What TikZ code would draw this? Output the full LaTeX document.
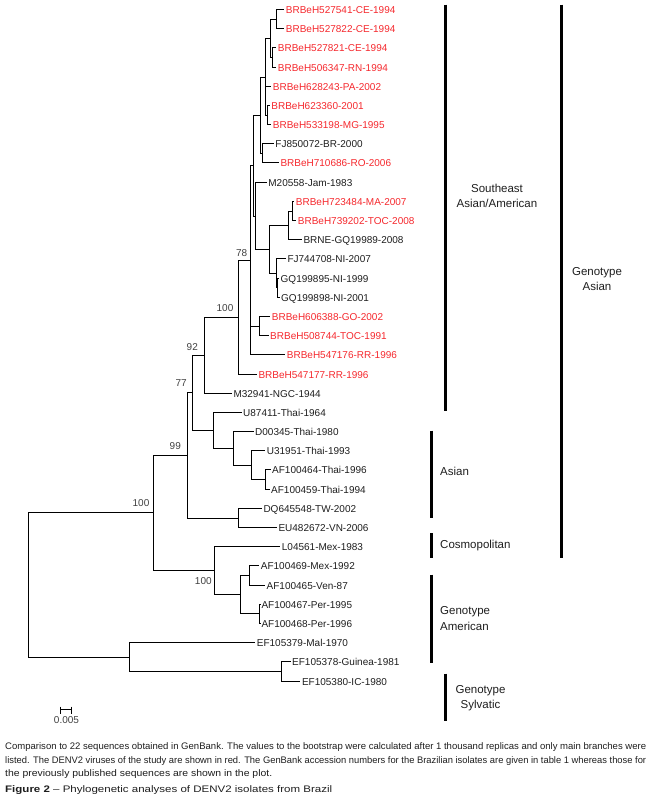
\documentclass[tikz,border=0pt]{standalone}
\usepackage{fontspec}
\setmainfont{Liberation Sans}
\usepackage{graphicx}
\definecolor{brred}{RGB}{245,40,45}
\definecolor{ink}{RGB}{30,30,30}
\begin{document}
\begin{tikzpicture}[x=1pt,y=-1pt,
  br/.style={line width=1.5pt, line join=miter},
  leaf/.style={anchor=west, inner xsep=1.5pt, inner ysep=0pt, text height=7.2pt, text depth=0pt, font=\fontsize{10}{12}\selectfont, text=ink},
  bra/.style={leaf, text=brred},
  boot/.style={font=\fontsize{10}{12}\selectfont, text=ink!85, inner sep=0pt, text height=7.2pt, text depth=0pt},
  clade/.style={line width=3pt},
  cladetext/.style={font=\fontsize{11.5}{15.5}\selectfont, inner sep=0pt, text=ink},
  captext/.style={anchor=west, inner sep=0pt, font=\fontsize{9.5}{11}\selectfont, text=ink}
]
\useasboundingbox (0,0) rectangle (652,801);

% leaves
\node[bra] (l1) at (284.2,9.5) {BRBeH527541-CE-1994};
\node[bra] (l2) at (284.2,28.5) {BRBeH527822-CE-1994};
\node[bra] (l3) at (276.2,47.5) {BRBeH527821-CE-1994};
\node[bra] (l4) at (276.2,67.5) {BRBeH506347-RN-1994};
\node[bra] (l5) at (271.2,86.5) {BRBeH628243-PA-2002};
\node[bra] (l6) at (269.7,105.5) {BRBeH623360-2001};
\node[bra] (l7) at (271.2,124.5) {BRBeH533198-MG-1995};
\node[leaf] (l8) at (273.7,143.5) {FJ850072-BR-2000};
\node[bra] (l9) at (278.8,162.5) {BRBeH710686-RO-2006};
\node[leaf] (l10) at (266.7,182.5) {M20558-Jam-1983};
\node[bra] (l11) at (294.2,201.5) {BRBeH723484-MA-2007};
\node[bra] (l12) at (296.2,220.5) {BRBeH739202-TOC-2008};
\node[leaf] (l13) at (301.8,239.5) {BRNE-GQ19989-2008};
\node[leaf] (l14) at (285.8,258.5) {FJ744708-NI-2007};
\node[leaf] (l15) at (279,278.5) {GQ199895-NI-1999};
\node[leaf] (l16) at (279.5,297.5) {GQ199898-NI-2001};
\node[bra] (l17) at (270.2,316.5) {BRBeH606388-GO-2002};
\node[bra] (l18) at (268.5,335.5) {BRBeH508744-TOC-1991};
\node[bra] (l19) at (285.2,354.5) {BRBeH547176-RR-1996};
\node[bra] (l20) at (256.8,374.5) {BRBeH547177-RR-1996};
\node[leaf] (l21) at (231.8,393.5) {M32941-NGC-1944};
\node[leaf] (l22) at (241.5,412.5) {U87411-Thai-1964};
\node[leaf] (l23) at (253.5,431.5) {D00345-Thai-1980};
\node[leaf] (l24) at (265.2,450.5) {U31951-Thai-1993};
\node[leaf] (l25) at (270.5,469.5) {AF100464-Thai-1996};
\node[leaf] (l26) at (269.5,489.5) {AF100459-Thai-1994};
\node[leaf] (l27) at (261.8,508.5) {DQ645548-TW-2002};
\node[leaf] (l28) at (276.8,527.5) {EU482672-VN-2006};
\node[leaf] (l29) at (280.2,546.5) {L04561-Mex-1983};
\node[leaf] (l30) at (259.2,565.5) {AF100469-Mex-1992};
\node[leaf] (l31) at (265,585.5) {AF100465-Ven-87};
\node[leaf] (l32) at (259.8,604.5) {AF100467-Per-1995};
\node[leaf] (l33) at (259.8,623.5) {AF100468-Per-1996};
\node[leaf] (l34) at (255.2,642.5) {EF105379-Mal-1970};
\node[leaf] (l35) at (290.5,661.5) {EF105378-Guinea-1981};
\node[leaf] (l36) at (300.3,681.5) {EF105380-IC-1980};

% internal nodes
\coordinate (n12) at (276.5,19.5);
\coordinate (n34) at (272.5,57.5);
\coordinate (nA) at (270.5,38.5);
\coordinate (nC) at (267.5,115.5);
\coordinate (nB) at (265.5,77.5);
\coordinate (nE) at (262.5,153.5);
\coordinate (nD) at (260.5,115.5);
\coordinate (nL) at (292.5,211.5);
\coordinate (nJ) at (288.5,225.5);
\coordinate (nM) at (277.5,287.5);
\coordinate (nK) at (276.5,273.5);
\coordinate (nG) at (269.5,249.5);
\coordinate (nFb) at (255.5,216.5);
\coordinate (nF) at (253.5,165.5);
\coordinate (nI) at (259.5,326.5);
\coordinate (nH) at (250.5,260.5);
\coordinate (nN) at (238.5,317.5);
\coordinate (nNt) at (204.5,355.5);
\coordinate (nR) at (265.5,479.5);
\coordinate (nQ) at (251.5,465.5);
\coordinate (nP) at (233.5,448.5);
\coordinate (nO) at (213.5,430.5);
\coordinate (nSv) at (192.5,392.5);
\coordinate (nS) at (238.5,518.5);
\coordinate (nNn) at (187.5,455.5);
\coordinate (nV) at (249.5,575.5);
\coordinate (nW) at (259.5,613.5);
\coordinate (nU) at (240.5,594.5);
\coordinate (nT) at (214.5,570.5);
\coordinate (nHd) at (153.5,512.5);
\coordinate (nY) at (281.5,671.5);
\coordinate (nX) at (129.5,657.5);
\coordinate (root) at (28.5,585.5);

\foreach \p/\c in {n12/l1.west, n12/l2.west, n34/l3.west, n34/l4.west, nA/n12, nA/n34,
  nC/l6.west, nC/l7.west, nB/nA, nB/l5.west, nB/nC, nE/l8.west, nE/l9.west, nD/nB, nD/nE,
  nL/l11.west, nL/l12.west, nJ/nL, nJ/l13.west, nM/l15.west, nM/l16.west, nK/l14.west, nK/nM,
  nG/nJ, nG/nK, nFb/l10.west, nFb/nG, nF/nD, nF/nFb, nI/l17.west, nI/l18.west,
  nH/nF, nH/nI, nH/l19.west, nN/nH, nN/l20.west, nNt/nN, nNt/l21.west,
  nR/l25.west, nR/l26.west, nQ/l24.west, nQ/nR, nP/l23.west, nP/nQ, nO/l22.west, nO/nP,
  nSv/nNt, nSv/nO, nS/l27.west, nS/l28.west, nNn/nSv, nNn/nS,
  nV/l30.west, nV/l31.west, nW/l32.west, nW/l33.west, nU/nV, nU/nW, nT/l29.west, nT/nU,
  nHd/nNn, nHd/nT, nY/l35.west, nY/l36.west, nX/l34.west, nX/nY, root/nHd, root/nX}
  \draw[br] (\p) |- (\c);

% bootstrap values
\node[boot] (b78) at (241.7,252.7) {78};
\node[boot] (b100a) at (225,308.3) {100};
\node[boot] (b92) at (192.3,346.7) {92};
\node[boot] (b77) at (181.2,383.3) {77};
\node[boot] (b99) at (175.3,446) {99};
\node[boot] (b100b) at (141,503.3) {100};
\node[boot] (b100c) at (203.3,581) {100};

% scale bar
\coordinate (sbA) at (60.5,709.5);
\coordinate (sbB) at (71.5,709.5);
\draw[line width=1pt] (sbA) -- (sbB);
\draw[line width=1pt] (60.5,706.5) -- (60.5,713.5);
\draw[line width=1pt] (71.5,706.5) -- (71.5,713.5);
\node[boot] (sbl) at (66.5,720) {0.005};

% clade bars
\draw[clade] (445.5,4.5) -- (445.5,410.5);
\draw[clade] (431.5,430.5) -- (431.5,517.5);
\draw[clade] (431.5,533) -- (431.5,558);
\draw[clade] (431.5,574.5) -- (431.5,662.5);
\draw[clade] (445.5,673.5) -- (445.5,720.5);
\draw[clade] (561.5,4.5) -- (561.5,558);

\node[cladetext, align=center] (tSE) at (497,196) {Southeast\\Asian/American};
\node[cladetext, align=center] (tGA) at (597,279) {Genotype\\Asian};
\node[cladetext, anchor=west] (tAs) at (440,471.7) {Asian};
\node[cladetext, anchor=west] (tCo) at (440,545.8) {Cosmopolitan};
\node[cladetext, anchor=west, align=left] (tAm) at (440,618.5) {Genotype\\American};
\node[cladetext, align=center] (tSy) at (480.5,698) {Genotype\\Sylvatic};

% caption
\node[captext] (c1) at (5,747.5) {\resizebox{641pt}{\height}{Comparison to 22 sequences obtained in GenBank. The values to the bootstrap were calculated after 1 thousand replicas and only main branches were}};
\node[captext] (c2) at (5,761) {\resizebox{641pt}{\height}{listed. The DENV2 viruses of the study are shown in red. The GenBank accession numbers for the Brazilian isolates are given in table 1 whereas those for}};
\node[captext] (c3) at (5,774.5) {\resizebox{267pt}{\height}{the previously published sequences are shown in the plot.}};
\node[captext] (c4) at (5,790) {\resizebox{327pt}{\height}{\textbf{Figure 2} -- Phylogenetic analyses of DENV2 isolates from Brazil}};
\end{tikzpicture}
\end{document}
